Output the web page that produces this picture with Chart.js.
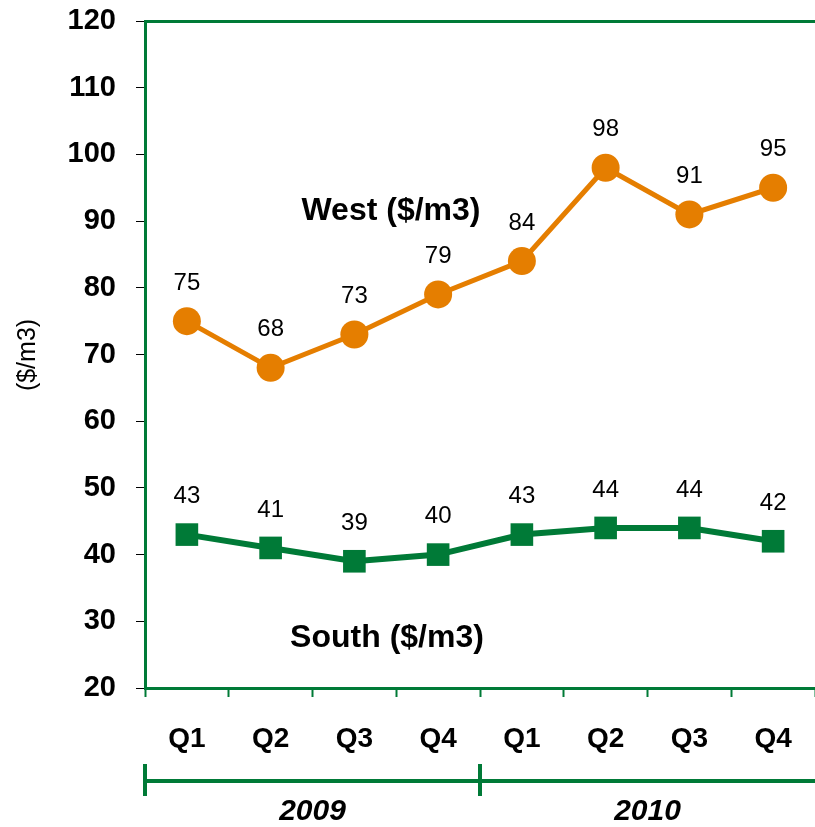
<!DOCTYPE html>
<html>
<head>
<meta charset="utf-8">
<script src="https://cdn.jsdelivr.net/npm/chart.js@4.4.1/dist/chart.umd.min.js"></script>
<style>
  html, body { margin: 0; padding: 0; background: #fff; }
  #wrap { width: 815px; height: 827px; position: relative; }
</style>
</head>
<body>
<div id="wrap"><canvas id="chart"></canvas></div>
<script>
'use strict';

// data
const quarters = ['Q1', 'Q2', 'Q3', 'Q4', 'Q1', 'Q2', 'Q3', 'Q4'];
const years = ['2009', '2010'];
const westPrices = [75, 68, 73, 79, 84, 98, 91, 95];
const southPrices = [43, 41, 39, 40, 43, 44, 44, 42];

const ORANGE = '#E57E00';
const GREEN = '#007A37';
const FONT = "'Liberation Sans', Arial, sans-serif";

// value labels above each point, series names, y title and year brackets
const extras = {
    id: 'extras',
    afterDatasetsDraw(chart) {
        const ctx = chart.ctx;
        const area = chart.chartArea;
        const x = chart.scales.x;
        ctx.save();
        ctx.fillStyle = '#000';
        ctx.textAlign = 'center';
        ctx.textBaseline = 'middle';

        ctx.font = `24px ${FONT}`;
        chart.data.datasets.forEach((ds, i) => {
            chart.getDatasetMeta(i).data.forEach((pt, j) => {
                ctx.fillText(String(ds.data[j]), pt.x, pt.y - 38);
            });
        });

        ctx.font = `bold 32px ${FONT}`;
        ctx.fillText('West ($/m3)', 391, 211);
        ctx.fillText('South ($/m3)', 387, 638);

        // y title
        ctx.save();
        ctx.translate(28, 355);
        ctx.rotate(-Math.PI / 2);
        ctx.font = `25px ${FONT}`;
        ctx.fillText('($/m3)', 0, 0);
        ctx.restore();

        // year brackets
        const lineY = 781;
        const split = (x.getPixelForValue(3) + x.getPixelForValue(4)) / 2;
        ctx.strokeStyle = GREEN;
        ctx.lineWidth = 4;
        ctx.beginPath();
        ctx.moveTo(area.left, lineY);
        ctx.lineTo(chart.width, lineY);
        ctx.moveTo(area.left, lineY - 17);
        ctx.lineTo(area.left, lineY + 15);
        ctx.moveTo(split, lineY - 17);
        ctx.lineTo(split, lineY + 15);
        ctx.stroke();

        ctx.font = `italic bold 30px ${FONT}`;
        ctx.fillText(years[0], (area.left + split) / 2, 812);
        ctx.fillText(years[1], (split + area.right) / 2, 812);
        ctx.restore();
    }
};

new Chart(document.getElementById('chart'), {
    type: 'line',
    data: {
        labels: quarters,
        datasets: [
            {
                label: 'West ($/m3)',
                data: westPrices,
                borderColor: ORANGE,
                backgroundColor: ORANGE,
                borderWidth: 5,
                pointStyle: 'circle',
                pointRadius: 14,
                pointHoverRadius: 14,
                pointBorderWidth: 0,
                tension: 0,
            },
            {
                label: 'South ($/m3)',
                data: southPrices,
                borderColor: GREEN,
                backgroundColor: GREEN,
                borderWidth: 6,
                pointStyle: 'rect',
                pointRadius: 16,
                pointHoverRadius: 16,
                pointBorderWidth: 0,
                tension: 0,
            },
        ],
    },
    options: {
        responsive: true,
        maintainAspectRatio: false,
        animation: false,
        layout: { autoPadding: false, padding: { top: 21, right: 0, bottom: 0, left: 0 } },
        plugins: {
            legend: { display: false },
            tooltip: { enabled: false },
        },
        scales: {
            x: {
                offset: true,
                afterFit: s => {
                    s.height = 139;
                    s.paddingLeft = 0;
                    s.paddingRight = 0;
                },
                border: { color: GREEN, width: 3 },
                grid: {
                    offset: true,
                    drawOnChartArea: false,
                    tickColor: GREEN,
                    tickLength: 9,
                    tickWidth: 2,
                },
                ticks: {
                    color: '#000',
                    padding: 25,
                    font: { family: FONT, size: 28, weight: 'bold' },
                },
            },
            y: {
                min: 20,
                max: 120,
                afterFit: s => {
                    s.width = 145;
                    s.paddingTop = 0;
                    s.paddingBottom = 0;
                },
                border: { color: GREEN, width: 3 },
                grid: {
                    drawOnChartArea: true,
                    color: c => c.tick && c.tick.value === 120 ? GREEN : 'rgba(0,0,0,0)',
                    lineWidth: 3,
                    tickColor: '#000',
                    tickLength: 9,
                    tickWidth: 1,
                },
                ticks: {
                    stepSize: 10,
                    color: '#000',
                    padding: 20,
                    font: { family: FONT, size: 29, weight: 'bold' },
                },
            },
        },
    },
    plugins: [extras],
});
</script>
</body>
</html>
